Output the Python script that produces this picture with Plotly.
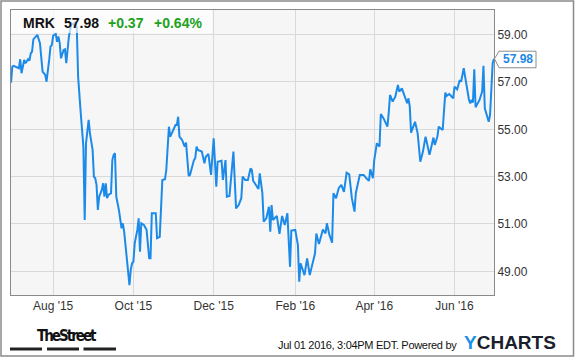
import plotly.graph_objects as go

# ---------------- data ----------------
dates = [
    "2015-06-30", "2015-07-01", "2015-07-02", "2015-07-06", "2015-07-07", "2015-07-08",
    "2015-07-10", "2015-07-11", "2015-07-13", "2015-07-14", "2015-07-15", "2015-07-16",
    "2015-07-17", "2015-07-18", "2015-07-20", "2015-07-22", "2015-07-23", "2015-07-24",
    "2015-07-26", "2015-07-27", "2015-07-29", "2015-07-30", "2015-07-31", "2015-08-01",
    "2015-08-03", "2015-08-04", "2015-08-05", "2015-08-06", "2015-08-07", "2015-08-09",
    "2015-08-10", "2015-08-11", "2015-08-13", "2015-08-14", "2015-08-15", "2015-08-17",
    "2015-08-18", "2015-08-19", "2015-08-20", "2015-08-22", "2015-08-23", "2015-08-24",
    "2015-08-25", "2015-08-26", "2015-08-28", "2015-08-29", "2015-08-31", "2015-09-01",
    "2015-09-02", "2015-09-03", "2015-09-04", "2015-09-05", "2015-09-07", "2015-09-08",
    "2015-09-09", "2015-09-10", "2015-09-11", "2015-09-12", "2015-09-14", "2015-09-15",
    "2015-09-16", "2015-09-17", "2015-09-18", "2015-09-20", "2015-09-22", "2015-09-23",
    "2015-09-24", "2015-09-26", "2015-09-27", "2015-09-28", "2015-09-29", "2015-09-30",
    "2015-10-01", "2015-10-02", "2015-10-04", "2015-10-05", "2015-10-06", "2015-10-07",
    "2015-10-09", "2015-10-11", "2015-10-13", "2015-10-14", "2015-10-15", "2015-10-18",
    "2015-10-19", "2015-10-21", "2015-10-23", "2015-10-25", "2015-10-26", "2015-10-28",
    "2015-10-29", "2015-10-31", "2015-11-02", "2015-11-03", "2015-11-04", "2015-11-05",
    "2015-11-07", "2015-11-09", "2015-11-10", "2015-11-12", "2015-11-13", "2015-11-16",
    "2015-11-17", "2015-11-18", "2015-11-19", "2015-11-22", "2015-11-24", "2015-11-25",
    "2015-11-27", "2015-11-29", "2015-12-01", "2015-12-03", "2015-12-04", "2015-12-07",
    "2015-12-08", "2015-12-10", "2015-12-11", "2015-12-13", "2015-12-16", "2015-12-18",
    "2015-12-20", "2015-12-22", "2015-12-23", "2015-12-25", "2015-12-27", "2015-12-29",
    "2015-12-30", "2015-12-31", "2016-01-04", "2016-01-05", "2016-01-07", "2016-01-08",
    "2016-01-10", "2016-01-12", "2016-01-13", "2016-01-14", "2016-01-15", "2016-01-18",
    "2016-01-20", "2016-01-22", "2016-01-24", "2016-01-26", "2016-01-28", "2016-01-29",
    "2016-02-01", "2016-02-03", "2016-02-04", "2016-02-05", "2016-02-08", "2016-02-10",
    "2016-02-12", "2016-02-16", "2016-02-17", "2016-02-19", "2016-02-22", "2016-02-24",
    "2016-02-25", "2016-02-27", "2016-02-29", "2016-03-01", "2016-03-03", "2016-03-05",
    "2016-03-07", "2016-03-09", "2016-03-11", "2016-03-13", "2016-03-15", "2016-03-17",
    "2016-03-18", "2016-03-21", "2016-03-24", "2016-03-26", "2016-03-28", "2016-03-29",
    "2016-03-30", "2016-03-31", "2016-04-01", "2016-04-02", "2016-04-03", "2016-04-05",
    "2016-04-06", "2016-04-08", "2016-04-11", "2016-04-12", "2016-04-13", "2016-04-15",
    "2016-04-17", "2016-04-19", "2016-04-20", "2016-04-22", "2016-04-24", "2016-04-26",
    "2016-04-27", "2016-04-28", "2016-04-29", "2016-04-30", "2016-05-02", "2016-05-04",
    "2016-05-06", "2016-05-08", "2016-05-10", "2016-05-13", "2016-05-15", "2016-05-16",
    "2016-05-17", "2016-05-19", "2016-05-20", "2016-05-22", "2016-05-23", "2016-05-25",
    "2016-05-26", "2016-05-28", "2016-05-31", "2016-06-01", "2016-06-03", "2016-06-05",
    "2016-06-06", "2016-06-08", "2016-06-10", "2016-06-12", "2016-06-13", "2016-06-14",
    "2016-06-15", "2016-06-16", "2016-06-17", "2016-06-20", "2016-06-22", "2016-06-23",
    "2016-06-24", "2016-06-27", "2016-06-28", "2016-06-29", "2016-06-30", "2016-07-01",
]

prices = [
    56.97, 57.65, 57.68, 57.58, 57.96, 57.37,
    57.93, 57.79, 57.96, 57.90, 58.21, 58.28,
    58.80, 58.85, 58.99, 58.64, 58.07, 57.44,
    57.30, 57.01, 57.93, 58.49, 58.56, 58.95,
    59.03, 58.70, 58.92, 58.64, 58.00, 58.35,
    58.38, 57.79, 58.92, 59.20, 59.48, 59.41,
    59.55, 59.27, 57.22, 55.68, 55.11, 54.27,
    51.17, 54.41, 55.40, 54.83, 54.13, 53.00,
    52.93, 52.65, 51.59, 52.15, 52.44, 52.72,
    52.15, 52.72, 52.09, 52.23, 52.30, 53.70,
    53.92, 53.99, 52.15, 51.59, 50.82, 51.03,
    50.67, 49.62, 49.19, 48.42, 49.06, 49.34,
    49.41, 50.18, 50.75, 51.24, 49.83, 51.03,
    50.96, 50.75, 49.55, 49.55, 51.45, 51.45,
    50.40, 50.46, 52.86, 52.89, 53.28, 55.11,
    54.69, 54.97, 55.18, 55.18, 55.53, 54.69,
    54.55, 54.27, 54.44, 53.03, 53.07, 53.70,
    53.78, 54.27, 54.13, 54.06, 53.56, 53.84,
    53.96, 53.07, 54.62, 52.58, 53.63, 53.67,
    52.86, 53.70, 52.15, 52.18, 54.06, 51.66,
    51.80, 52.09, 53.00, 52.86, 52.86, 53.35,
    53.28, 52.83, 52.48, 53.14, 52.30, 51.10,
    51.24, 51.73, 50.67, 51.80, 51.17, 51.34,
    50.58, 51.34, 50.96, 51.45, 49.19, 50.72,
    50.75, 50.11, 48.56, 49.34, 48.84, 49.55,
    48.84, 49.76, 50.60, 50.15, 50.77, 50.60,
    51.03, 50.53, 50.21, 52.30, 52.09, 52.51,
    52.65, 52.36, 53.17, 53.10, 52.09, 51.52,
    52.30, 53.07, 53.07, 52.93, 52.82, 53.31,
    53.14, 52.93, 53.70, 53.99, 54.41, 54.27,
    55.65, 55.47, 55.11, 55.68, 56.45, 56.17,
    56.38, 56.87, 56.59, 56.73, 56.45, 56.10,
    56.31, 55.96, 54.86, 55.04, 55.32, 54.83,
    53.63, 54.06, 54.69, 53.92, 54.34, 54.65,
    54.34, 54.69, 55.11, 55.04, 54.97, 56.55,
    56.41, 56.49, 56.31, 56.80, 56.69, 57.08,
    57.01, 57.58, 56.87, 56.24, 56.10, 56.24,
    56.13, 57.54, 55.93, 56.24, 56.59, 57.68,
    55.89, 55.32, 55.61, 57.08, 57.79, 57.98,
]

ticker = "MRK"
last_price_text = "57.98"
change_text = "+0.37"
change_pct_text = "+0.64%"

x_tick_dates = ["2015-08-01", "2015-10-01", "2015-12-01", "2016-02-01", "2016-04-01", "2016-06-01"]
x_tick_labels = ["Aug '15", "Oct '15", "Dec '15", "Feb '16", "Apr '16", "Jun '16"]
y_tick_values = [49, 51, 53, 55, 57, 59]
y_tick_labels = ["49.00", "51.00", "53.00", "55.00", "57.00", "59.00"]

footer_left = "TheStreet"
footer_text = "Jul 01 2016, 3:04PM EDT. Powered by"

# ---------------- layout helpers ----------------
W, H = 575, 358
L, R, T, B = 11, 81, 10, 63
PW, PH = W - L - R, H - T - B


def px(x):
    return (x - L) / PW


def py(y):
    return (H - B - y) / PH


FONT = "Liberation Sans, Arial, Helvetica, sans-serif"
LINE_BLUE = "#1b8ae8"
GREEN = "#21a121"

fig = go.Figure()
fig.add_trace(go.Scatter(
    x=dates, y=prices, mode="lines",
    line=dict(color=LINE_BLUE, width=2),
    hoverinfo="skip", showlegend=False,
))

last = prices[-1]

shapes = [
    # white translucent header box over the line
    dict(type="rect", xref="paper", yref="paper", x0=0, x1=px(212), y0=py(33), y1=1,
         fillcolor="rgba(255,255,255,0.65)", line=dict(width=0), layer="above"),
    # price tag
    dict(type="path", xref="paper", yref="y",
         path=(f"M {px(494.5)},{last} L {px(499)},{last + 0.32} L {px(536)},{last + 0.32} "
               f"L {px(536)},{last - 0.38} L {px(499)},{last - 0.38} Z"),
         fillcolor="white", line=dict(color="#8a8a8a", width=1), layer="above"),
    # outer frame
    dict(type="rect", xref="paper", yref="paper", x0=px(1), x1=px(573.5), y0=py(356), y1=py(1),
         line=dict(color="#8a8a8a", width=1.5), fillcolor="rgba(0,0,0,0)", layer="above"),
]
# TheStreet underline bars
for x0, x1 in [(10, 42), (47, 79), (83.5, 116)]:
    shapes.append(dict(type="rect", xref="paper", yref="paper", x0=px(x0), x1=px(x1),
                       y0=py(350.5), y1=py(347.5), fillcolor="#222222", line=dict(width=0)))

annotations = [
    dict(text=f"<b>{ticker}</b>", x=px(21), y=py(23.3), font=dict(size=14, color="#111")),
    dict(text=f"<b>{last_price_text}</b>", x=px(62), y=py(23.3), font=dict(size=14, color="#111")),
    dict(text=f"<b>{change_text}</b>", x=px(106), y=py(23.3), font=dict(size=14, color=GREEN)),
    dict(text=f"<b>{change_pct_text}</b>", x=px(152), y=py(23.3), font=dict(size=14, color=GREEN)),
    dict(text=f"<b><span style='letter-spacing:-2px'>{footer_left}</span></b>",
         x=px(35), y=py(336), font=dict(size=15, color="#111",
         family="DejaVu Sans Condensed, Liberation Sans Narrow, Arial Narrow, sans-serif")),
    dict(text=f"<span style='letter-spacing:-0.3px'>{footer_text}</span>", x=px(459), y=py(344.5),
         xanchor="right", font=dict(size=11, color="#111")),
    dict(text="<b><span style='color:#1e90e8'>Y</span>CHARTS</b>", x=px(462), y=py(342),
         font=dict(size=19, color="#1b1f2e")),
]
for a in annotations:
    a.setdefault("xref", "paper")
    a.setdefault("yref", "paper")
    a.setdefault("xanchor", "left")
    a.setdefault("yanchor", "middle")
    a.setdefault("showarrow", False)

annotations.append(dict(text=f"<b>{last_price_text}</b>", xref="paper", yref="y",
                        x=px(517.5), y=last - 0.03, xanchor="center", yanchor="middle",
                        showarrow=False, font=dict(size=12, color="#1e88e5")))

fig.update_layout(
    width=W, height=H,
    margin=dict(l=L, r=R, t=T, b=B, pad=0),
    paper_bgcolor="white",
    plot_bgcolor="#f6f6f6",
    font=dict(family=FONT, size=12, color="#333"),
    shapes=shapes,
    annotations=annotations,
    xaxis=dict(
        type="date", range=["2015-06-30", "2016-07-01"],
        tickvals=x_tick_dates, ticktext=x_tick_labels,
        showgrid=True, gridcolor="#d9d9d9", gridwidth=1,
        showline=True, linecolor="#8a8a8a", linewidth=1, mirror=True,
        ticks="", zeroline=False, fixedrange=True,
        tickfont=dict(size=12, color="#333"),
    ),
    yaxis=dict(
        range=[48.0, 60.04], side="right",
        tickvals=y_tick_values, ticktext=y_tick_labels,
        showgrid=True, gridcolor="#d9d9d9", gridwidth=1,
        showline=True, linecolor="#8a8a8a", linewidth=1, mirror=True,
        ticks="", zeroline=False, fixedrange=True,
        tickfont=dict(size=12, color="#333"),
    ),
)

fig.write_html("out.html")
